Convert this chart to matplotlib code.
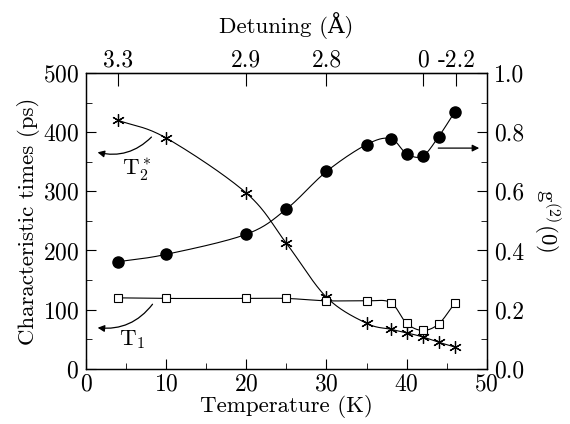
import numpy as np
import matplotlib
matplotlib.use("Agg")
import matplotlib.pyplot as plt
from matplotlib.ticker import MultipleLocator

plt.rcParams['font.family'] = ['cmr10', 'DejaVu Serif']
plt.rcParams['mathtext.fontset'] = 'cm'
plt.rcParams['axes.unicode_minus'] = False
plt.rcParams['axes.formatter.use_mathtext'] = True

# Data
temp = [4, 10, 20, 25, 30, 35, 38, 40, 42, 44, 46]
t2star = [420, 390, 297, 212, 121, 77, 67, 61, 54, 45, 37]
t1 = [120, 119, 119, 119, 115, 115, 112, 77, 65, 76, 111]
g2 = [0.362, 0.387, 0.455, 0.54, 0.667, 0.758, 0.778, 0.727, 0.719, 0.785, 0.868]
detuning_pos = [4, 20, 30, 42, 46.2]
detuning_labels = ['3.3', '2.9', '2.8', '0', '-2.2']


def smooth(x, y, xscale=1.0, yscale=1.0, n=30):
    x = np.asarray(x, float)
    y = np.asarray(y, float)
    P = np.column_stack([x / xscale, y / yscale])
    P = np.vstack([2 * P[0] - P[1], P, 2 * P[-1] - P[-2]])
    out = []
    for i in range(1, len(P) - 2):
        p0, p1, p2, p3 = P[i - 1], P[i], P[i + 1], P[i + 2]
        t = np.linspace(0, 1, n)[:, None]
        seg = 0.5 * ((2 * p1) + (-p0 + p2) * t + (2 * p0 - 5 * p1 + 4 * p2 - p3) * t ** 2
                     + (-p0 + 3 * p1 - 3 * p2 + p3) * t ** 3)
        out.append(seg)
    out = np.vstack(out)
    return out[:, 0] * xscale, out[:, 1] * yscale


fig = plt.figure(figsize=(5.7, 4.24), dpi=100)
ax = fig.add_axes([0.151, 0.130, 0.703, 0.698])
ax.set_xlim(0, 50)
ax.set_ylim(0, 500)

lw = 0.8
sx, sy = smooth(temp, t2star, 50, 500)
ax.plot(sx, sy, color='black', lw=lw)
ax.plot(temp, t2star, linestyle='none', marker=(6, 2, 0), ms=9, mew=0.9, color='black')

sx, sy = smooth(temp, t1, 50, 500)
ax.plot(sx, sy, color='black', lw=lw)
ax.plot(temp, t1, linestyle='none', marker='s', ms=6, mfc='white', mec='black', mew=0.8)

ax2 = ax.twinx()
ax2.set_ylim(0, 1.0)
sx, sy = smooth(temp, g2, 50, 1.0)
ax2.plot(sx, sy, color='black', lw=lw)
ax2.plot(temp, g2, linestyle='none', marker='o', ms=8, color='black')

# ticks
fs = 17
lfs = 16.5
ax.xaxis.set_major_locator(MultipleLocator(10))
ax.xaxis.set_minor_locator(MultipleLocator(5))
ax.yaxis.set_major_locator(MultipleLocator(100))
ax.yaxis.set_minor_locator(MultipleLocator(50))
ax.tick_params(which='both', direction='in', top=False, right=False, labelsize=fs)
ax.tick_params(axis='y', which='major', length=7, pad=5)
ax.tick_params(axis='x', which='major', length=7, pad=3)
ax.tick_params(which='minor', length=4)
ax2.yaxis.set_major_locator(MultipleLocator(0.2))
ax2.yaxis.set_minor_locator(MultipleLocator(0.1))
ax2.tick_params(which='both', direction='in', labelsize=fs)
ax2.tick_params(which='major', length=7, pad=5)
ax2.tick_params(which='minor', length=4)
ax2.yaxis.set_major_formatter(matplotlib.ticker.FormatStrFormatter('%.1f'))

axt = ax.secondary_xaxis('top')
axt.set_xticks(detuning_pos)
axt.set_xticklabels(detuning_labels)
axt.tick_params(direction='in', length=9, labelsize=fs, pad=1)
axt.set_xlabel('Detuning (Å)', fontsize=lfs, labelpad=12)

ax.set_xlabel('Temperature (K)', fontsize=lfs, labelpad=0)
ax.set_ylabel('Characteristic times (ps)', fontsize=lfs, labelpad=2)
ax2.set_ylabel(r'g$^{(2)}$(0)', fontsize=lfs, rotation=270, labelpad=28)

for a in (ax, ax2):
    for s in a.spines.values():
        s.set_linewidth(0.9)

# annotations
ax.text(6.3, 336, r'T$_2^*$', fontsize=lfs, ha='center', va='center')
ax.annotate('', xy=(1.1, 367), xytext=(8.4, 395),
            arrowprops=dict(arrowstyle='-|>', color='black', lw=0.9,
                            connectionstyle='arc3,rad=-0.3', mutation_scale=10))
ax.text(5.7, 49, r'T$_1$', fontsize=lfs, ha='center', va='center')
ax.annotate('', xy=(1.1, 70), xytext=(8.5, 113),
            arrowprops=dict(arrowstyle='-|>', color='black', lw=0.9,
                            connectionstyle='arc3,rad=-0.3', mutation_scale=10))
ax.annotate('', xy=(49.4, 373), xytext=(43.6, 373),
            arrowprops=dict(arrowstyle='-|>', color='black', lw=0.9, mutation_scale=10))

fig.savefig('out.png', dpi=100)
